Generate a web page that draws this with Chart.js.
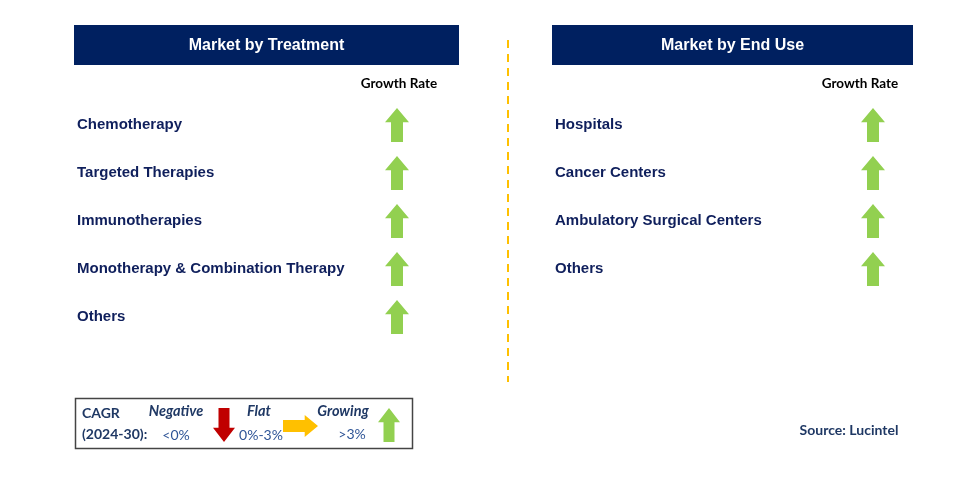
<!DOCTYPE html>
<html>
<head>
<meta charset="utf-8">
<script src="https://cdn.jsdelivr.net/npm/chart.js@4"></script>
<style>
  body { margin: 0; background: #fff; }
  #wrap { position: relative; width: 977px; height: 494px; }
  #left { position: absolute; left: 0; top: 0; }
  #right { position: absolute; left: 520px; top: 0; }
</style>
</head>
<body>
<div id="wrap">
  <canvas id="left" width="520" height="494"></canvas>
  <canvas id="right" width="457" height="494"></canvas>
</div>
<script>
const treatments = ['Chemotherapy', 'Targeted Therapies', 'Immunotherapies', 'Monotherapy & Combination Therapy', 'Others'];
const treatmentGrowth = ['growing', 'growing', 'growing', 'growing', 'growing'];
const endUses = ['Hospitals', 'Cancer Centers', 'Ambulatory Surgical Centers', 'Others'];
const endUseGrowth = ['growing', 'growing', 'growing', 'growing'];
const columnLabel = ['Growth Rate'];

const NAVY = '#002060';
const TEXT = '#0F1F5C';
const GREEN = '#92D050';
const RED = '#C00000';
const YELLOW = '#FFC000';
const CAL = 'Lato, "Open Sans", sans-serif';

// arrow path, (x, y) is top-left of the box
function arrowPath(ctx, dir, x, y, w, h) {
  ctx.beginPath();
  if (dir === 'up' || dir === 'down') {
    const hh = h * 0.42, sw = w * 0.5, cx = x + w / 2;
    if (dir === 'up') {
      ctx.moveTo(cx, y);
      ctx.lineTo(x + w, y + hh);
      ctx.lineTo(cx + sw / 2, y + hh);
      ctx.lineTo(cx + sw / 2, y + h);
      ctx.lineTo(cx - sw / 2, y + h);
      ctx.lineTo(cx - sw / 2, y + hh);
      ctx.lineTo(x, y + hh);
    } else {
      ctx.moveTo(cx, y + h);
      ctx.lineTo(x + w, y + h - hh);
      ctx.lineTo(cx + sw / 2, y + h - hh);
      ctx.lineTo(cx + sw / 2, y);
      ctx.lineTo(cx - sw / 2, y);
      ctx.lineTo(cx - sw / 2, y + h - hh);
      ctx.lineTo(x, y + h - hh);
    }
  } else {
    const hw = w * 0.38, sh = h * 0.55, cy = y + h / 2;
    ctx.moveTo(x + w, cy);
    ctx.lineTo(x + w - hw, y);
    ctx.lineTo(x + w - hw, cy - sh / 2);
    ctx.lineTo(x, cy - sh / 2);
    ctx.lineTo(x, cy + sh / 2);
    ctx.lineTo(x + w - hw, cy + sh / 2);
    ctx.lineTo(x + w - hw, y + h);
  }
  ctx.closePath();
}

function arrowImage(dir, color, w, h) {
  const c = document.createElement('canvas');
  c.width = w; c.height = h;
  const g = c.getContext('2d');
  arrowPath(g, dir, 0, 0, w, h);
  g.fillStyle = color;
  g.fill();
  return c;
}

const arrows = {
  growing: arrowImage('up', GREEN, 24, 34),
  flat: arrowImage('right', YELLOW, 35, 22),
  negative: arrowImage('down', RED, 22, 34)
};

function header(ctx, x, w, text) {
  ctx.save();
  ctx.fillStyle = NAVY;
  ctx.fillRect(x, 25, w, 40);
  ctx.fillStyle = '#fff';
  ctx.font = 'bold 16px "Liberation Sans", Arial, sans-serif';
  ctx.textAlign = 'center';
  ctx.textBaseline = 'middle';
  ctx.fillText(text, x + w / 2, 46);
  ctx.restore();
}

const leftDecor = {
  id: 'leftDecor',
  beforeDraw(chart) {
    const ctx = chart.ctx;
    header(ctx, 74, 385, 'Market by Treatment');

    // divider
    ctx.save();
    ctx.strokeStyle = YELLOW;
    ctx.lineWidth = 2;
    ctx.setLineDash([8, 6]);
    ctx.beginPath();
    ctx.moveTo(508, 40);
    ctx.lineTo(508, 382);
    ctx.stroke();
    ctx.restore();

    // CAGR legend box
    ctx.save();
    ctx.strokeStyle = '#444';
    ctx.lineWidth = 1.5;
    ctx.strokeRect(75.5, 398.5, 337, 50);
    ctx.textBaseline = 'middle';
    ctx.fillStyle = '#1F3864';
    ctx.font = 'bold 14px ' + CAL;
    ctx.textAlign = 'left';
    ctx.fillText('CAGR', 82, 413);
    ctx.fillText('(2024-30):', 82, 434);
    ctx.textAlign = 'center';
    ctx.font = 'italic bold 14.5px ' + CAL;
    ctx.fillText('Negative', 176, 411);
    ctx.fillText('Flat', 259, 411);
    ctx.fillText('Growing', 343, 411);
    ctx.fillStyle = '#2F5597';
    ctx.font = '14px ' + CAL;
    ctx.fillText('<0%', 176, 435);
    ctx.fillText('0%-3%', 261, 435);
    ctx.fillText('>3%', 352, 434);
    arrowPath(ctx, 'down', 213, 408, 22, 34);
    ctx.fillStyle = RED; ctx.fill();
    arrowPath(ctx, 'right', 283, 415, 35, 22);
    ctx.fillStyle = YELLOW; ctx.fill();
    arrowPath(ctx, 'up', 378, 408, 22, 34);
    ctx.fillStyle = GREEN; ctx.fill();
    ctx.restore();
  }
};

const rightDecor = {
  id: 'rightDecor',
  beforeDraw(chart) {
    const ctx = chart.ctx;
    header(ctx, 32, 361, 'Market by End Use');
    ctx.save();
    ctx.fillStyle = '#1F3864';
    ctx.font = 'bold 14px ' + CAL;
    ctx.textAlign = 'center';
    ctx.textBaseline = 'middle';
    ctx.fillText('Source: Lucintel', 329, 430);
    ctx.restore();
  }
};

function panel(id, cats, growth, pad, labelShift, plugin) {
  return new Chart(document.getElementById(id), {
    type: 'scatter',
    data: {
      datasets: [{
        data: cats.map(c => ({ x: columnLabel[0], y: c })),
        pointStyle: ctx => arrows[growth[ctx.dataIndex]],
        pointRadius: 17,
        pointHoverRadius: 17
      }]
    },
    options: {
      responsive: false,
      animation: false,
      events: [],
      layout: { padding: pad },
      plugins: { legend: { display: false }, tooltip: { enabled: false } },
      scales: {
        x: {
          type: 'category',
          labels: columnLabel,
          position: 'top',
          offset: true,
          grid: { display: false, drawTicks: false },
          border: { display: false },
          afterFit: s => { s.height = 31; },
          ticks: {
            padding: 9,
            labelOffset: labelShift,
            color: '#000',
            font: { family: CAL, size: 13.5, weight: 'bold' }
          }
        },
        y: {
          type: 'category',
          labels: cats,
          offset: true,
          grid: { display: false, drawTicks: false },
          border: { display: false },
          afterFit: s => { s.width = 275; },
          ticks: {
            crossAlign: 'far',
            padding: 0,
            autoSkip: false,
            color: TEXT,
            font: { family: '"Liberation Sans", Arial, sans-serif', size: 15, weight: 'bold' }
          }
        }
      }
    },
    plugins: [plugin]
  });
}

panel('left', treatments, treatmentGrowth, { left: 77, right: 78, top: 70, bottom: 153 }, 2, leftDecor);
panel('right', endUses, endUseGrowth, { left: 35, right: 61, top: 70, bottom: 201 }, -13, rightDecor);
</script>
</body>
</html>
